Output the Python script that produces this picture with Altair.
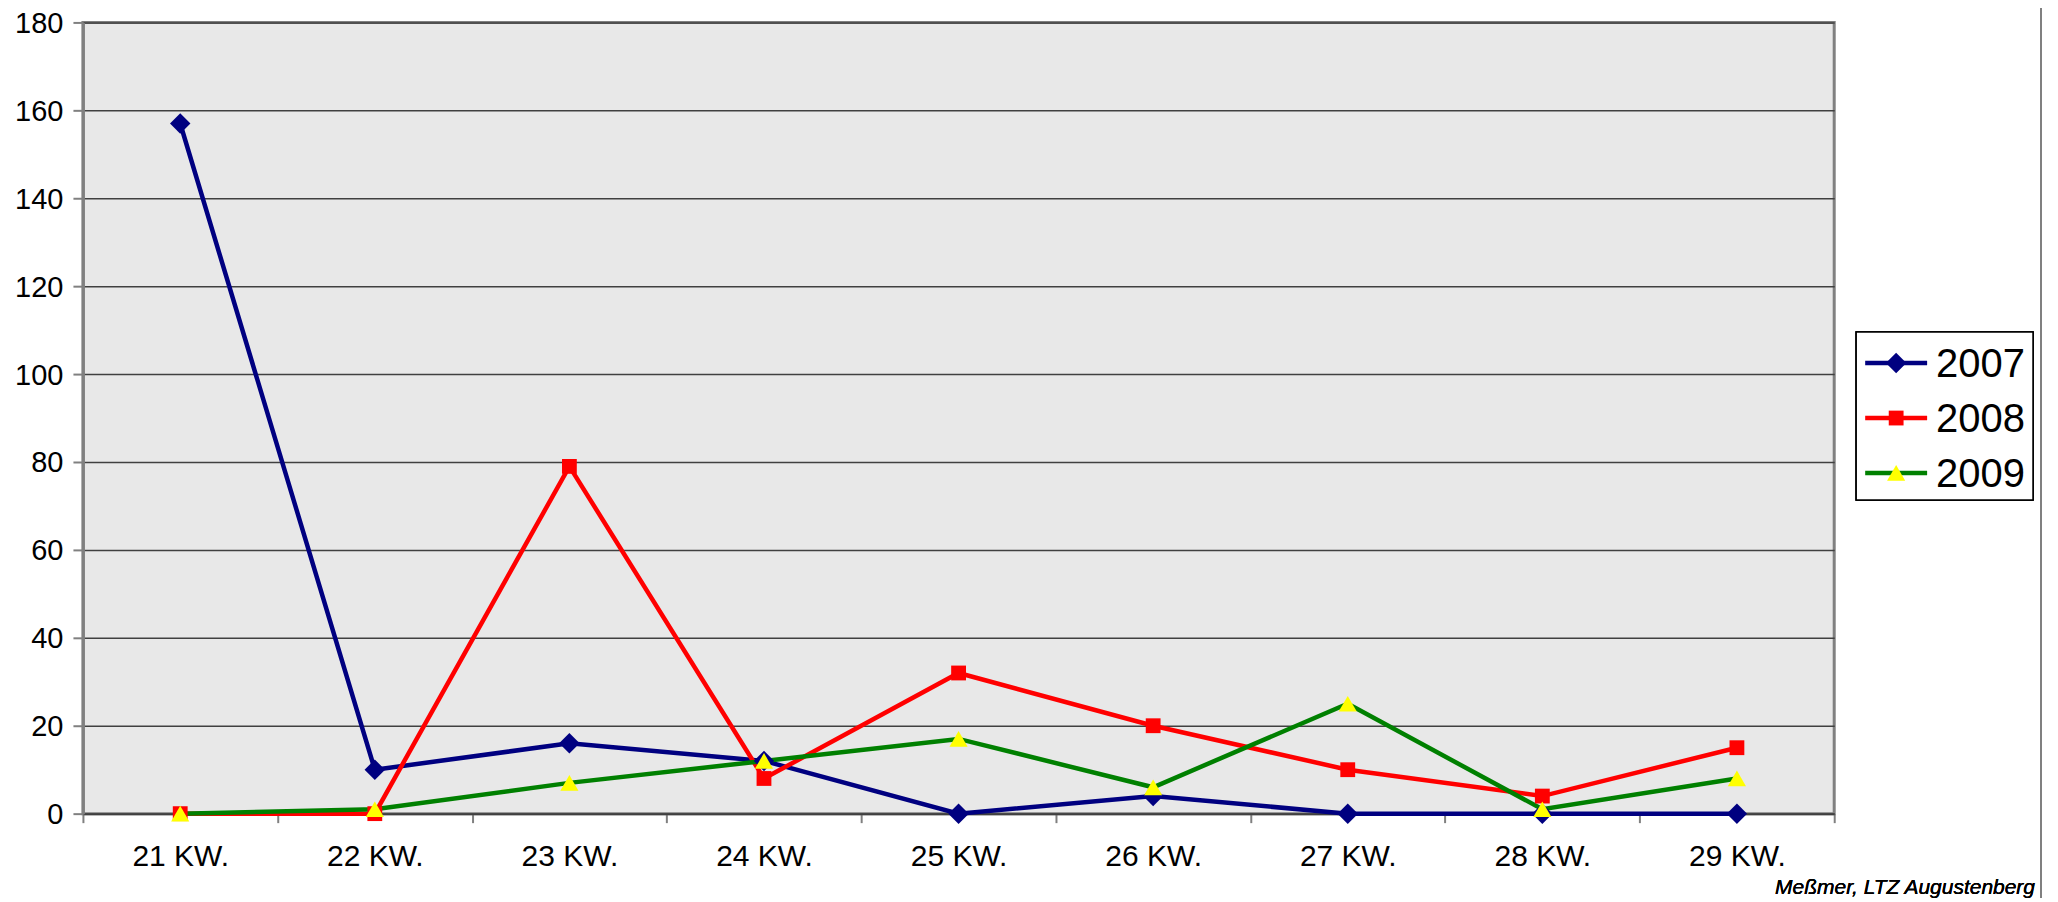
import altair as alt
import pandas as pd

weeks = ["21 KW.", "22 KW.", "23 KW.", "24 KW.", "25 KW.", "26 KW.", "27 KW.", "28 KW.", "29 KW."]
years = ["2007", "2008", "2009"]
v2007 = [157, 10, 16, 12, 0, 4, 0, 0, 0]
v2008 = [0, 0, 79, 8, 32, 20, 10, 4, 15]
v2009 = [0, 1, 7, 12, 17, 6, 25, 1, 8]
y_ticks = [0, 20, 40, 60, 80, 100, 120, 140, 160, 180]
line_colors = ["#000080", "#FF0000", "#008000"]
marker_fills = ["#000080", "#FF0000", "#FFFF00"]
marker_shapes = ["diamond", "square", "triangle-up"]
marker_sizes = [420, 220, 330]
credit = "Meßmer, LTZ Augustenberg"

rows = []
for yr, vals in zip(years, [v2007, v2008, v2009]):
    for w, v in zip(weeks, vals):
        rows.append({"Woche": w, "Jahr": yr, "Wert": v})
df = pd.DataFrame(rows)
leg = pd.DataFrame({"Jahr": years})

W, H = 1753, 792
FONT = "Liberation Sans"

x_enc = alt.X("Woche:N", sort=weeks, title=None,
              scale=alt.Scale(paddingInner=0, paddingOuter=0),
              axis=alt.Axis(tickBand="extent", labelAngle=0, labelFontSize=30, labelFont=FONT,
                            labelColor="black", tickSize=9, tickColor="#808080", tickWidth=2,
                            domainColor="#404040", domainWidth=2, labelPadding=19, grid=False))
y_enc = alt.Y("Wert:Q", title=None,
              scale=alt.Scale(domain=[0, 180], nice=False),
              axis=alt.Axis(values=y_ticks, labelFontSize=29, labelFont=FONT, labelColor="black",
                            labelOffset=1,
                            tickSize=10, tickColor="#808080", tickWidth=2, domainColor="#808080",
                            domainWidth=3, labelPadding=10, grid=True, gridColor="#404040",
                            gridWidth=1.5))
col_scale = alt.Scale(domain=years, range=line_colors)
shape_scale = alt.Scale(domain=years, range=marker_shapes)
fill_scale = alt.Scale(domain=years, range=marker_fills)
size_scale = alt.Scale(type="ordinal", domain=years, range=marker_sizes)

lines = alt.Chart(df).mark_line(strokeWidth=4.5).encode(
    x=x_enc, y=y_enc,
    color=alt.Color("Jahr:N", scale=col_scale, legend=None),
)
points = alt.Chart(df).mark_point(filled=True, opacity=1).encode(
    x=alt.X("Woche:N", sort=weeks),
    y=alt.Y("Wert:Q"),
    shape=alt.Shape("Jahr:N", scale=shape_scale, legend=None),
    fill=alt.Fill("Jahr:N", scale=fill_scale, legend=None),
    size=alt.Size("Jahr:N", scale=size_scale, legend=None),
    detail="Jahr:N",
)

# Legend (built from the series list, positioned with its own point scale)
leg_y = alt.Y("Jahr:N", sort=years, axis=None, scale=alt.Scale(type="point", range=[341, 451], padding=0))
leg_box = alt.Chart(leg).mark_rect(fill="white", stroke="black", strokeWidth=1.5).encode(
    x=alt.value(1775), x2=alt.value(1952), y=alt.value(310), y2=alt.value(478))
leg_lines = alt.Chart(leg).mark_rule(strokeWidth=4.5).encode(
    x=alt.value(1784), x2=alt.value(1846), y=leg_y,
    color=alt.Color("Jahr:N", scale=col_scale, legend=None))
leg_pts = alt.Chart(leg).mark_point(filled=True, opacity=1).encode(
    x=alt.value(1815), y=leg_y,
    shape=alt.Shape("Jahr:N", scale=shape_scale, legend=None),
    fill=alt.Fill("Jahr:N", scale=fill_scale, legend=None),
    size=alt.Size("Jahr:N", scale=size_scale, legend=None))
leg_txt = alt.Chart(leg).mark_text(align="left", baseline="middle", fontSize=40, font=FONT,
                                   color="black", dy=2).encode(
    x=alt.value(1855), y=leg_y, text="Jahr:N")

frame = alt.Chart(leg).mark_rule(color="#808080", strokeWidth=2).encode(
    x=alt.value(1960), y=alt.value(-22), y2=alt.value(880))
footer = alt.Chart(leg).mark_text(align="right", baseline="alphabetic", fontSize=21, font=FONT,
                                  fontStyle="italic", fontWeight="normal", color="black").encode(
    x=alt.value(1954), y=alt.value(872), text=alt.value(credit))

main = alt.layer(lines, points).resolve_scale(shape="independent", fill="independent")
legend_layer = alt.layer(leg_box, leg_lines, leg_pts, leg_txt)

chart = alt.layer(main, legend_layer, frame, footer).resolve_scale(
    y="independent", shape="independent", fill="independent", color="shared"
).properties(
    width=W, height=H,
    autosize=alt.AutoSizeParams(type="none"),
    padding={"left": 75, "top": 14, "right": 216, "bottom": 84},
    background="white",
).configure_view(
    fill="#e8e8e8", stroke="#808080", strokeWidth=3
)

chart.save("out.html", embed_options={"renderer": "svg", "actions": False})
